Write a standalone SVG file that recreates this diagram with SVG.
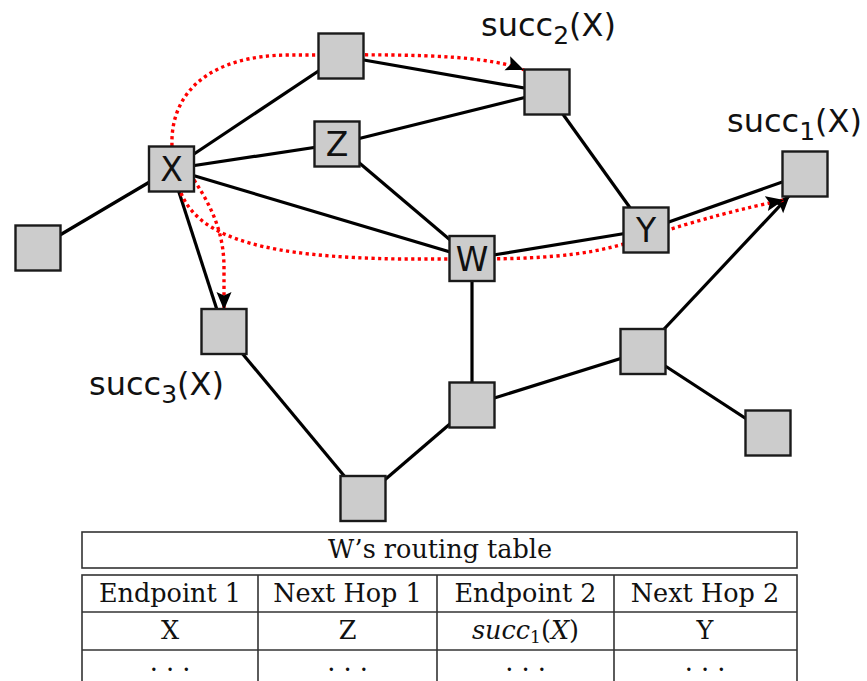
<svg xmlns="http://www.w3.org/2000/svg" width="867" height="681" viewBox="0 0 867 681">
  <style>
    .edge { stroke: #000; stroke-width: 3.2; fill: none; }
    .route { stroke: #ff0000; stroke-width: 3.4; stroke-dasharray: 3.2 3.4; fill: none; }
    .node rect { fill: #cccccc; stroke: #1a1a1a; stroke-width: 2.4; }
    .nlabel { font-family: "DejaVu Sans", sans-serif; font-size: 33px; fill: #111; text-anchor: middle; }
    .succ { font-family: "DejaVu Sans", sans-serif; font-size: 32px; fill: #111; }
    .grid { stroke: #333; stroke-width: 1.6; fill: none; }
    .cell { font-family: "DejaVu Serif", serif; font-size: 25.5px; fill: #111; text-anchor: middle; }
  </style>
  <defs>
    <marker id="head" markerUnits="userSpaceOnUse" markerWidth="19" markerHeight="16" refX="18" refY="7.5" orient="auto">
      <path d="M0,0 L18,7.5 L0,15 L3.5,7.5 z" fill="#000"/>
    </marker>
  </defs>

  <rect width="867" height="681" fill="#fff"/>

  <!-- links and routes -->
  <g id="connectors">
    <line class="edge" x1="38" y1="248" x2="171.5" y2="169"/>
    <line class="edge" x1="171.5" y1="169" x2="341" y2="56"/>
    <line class="edge" x1="171.5" y1="169" x2="337" y2="144"/>
    <line class="edge" x1="171.5" y1="169" x2="472" y2="258.5"/>
    <line class="edge" x1="171.5" y1="169" x2="224" y2="331.5"/>
    <line class="edge" x1="341" y1="56" x2="547" y2="92"/>
    <line class="edge" x1="337" y1="144" x2="547" y2="92"/>
    <line class="edge" x1="337" y1="144" x2="472" y2="258.5"/>
    <line class="edge" x1="547" y1="92" x2="646" y2="230"/>
    <line class="edge" x1="472" y1="258.5" x2="646" y2="230"/>
    <line class="edge" x1="646" y1="230" x2="805" y2="174"/>
    <line class="edge" x1="472" y1="258.5" x2="472" y2="405"/>
    <line class="edge" x1="472" y1="405" x2="643" y2="351.5"/>
    <line class="edge" x1="472" y1="405" x2="363" y2="498.5"/>
    <line class="edge" x1="224" y1="331.5" x2="363" y2="498.5"/>
    <line class="edge" x1="643" y1="351.5" x2="768" y2="433"/>
    <line class="edge" x1="643" y1="351.5" x2="790" y2="195" marker-end="url(#head)"/>

    <path class="route" d="M172,146 C170,92 210,55 290,55 C380,55 480,52 524,70" marker-end="url(#head)"/>
    <path class="route" d="M194,180 C214,210 224,236 224,268 L224,310" marker-end="url(#head)"/>
    <path class="route" d="M181,193 C200,240 270,257 400,259 L472,259 C560,259 600,253 646,237 C700,219 745,208 784,200" marker-end="url(#head)"/>
  </g>

  <!-- nodes -->
  <g id="n-top" class="node"><rect x="318.5" y="33.5" width="45" height="45"/></g>
  <g id="n-succ2" class="node"><rect x="524.5" y="69.5" width="45" height="45"/></g>
  <g id="n-z" class="node"><rect x="314.5" y="121.5" width="45" height="45"/><text class="nlabel" x="337" y="156">Z</text></g>
  <g id="n-x" class="node"><rect x="149" y="146.5" width="45" height="45"/><text class="nlabel" x="171.5" y="181">X</text></g>
  <g id="n-left" class="node"><rect x="15.5" y="225.5" width="45" height="45"/></g>
  <g id="n-succ3" class="node"><rect x="201.5" y="309" width="45" height="45"/></g>
  <g id="n-w" class="node"><rect x="449.5" y="236" width="45" height="45"/><text class="nlabel" x="472" y="270.5">W</text></g>
  <g id="n-y" class="node"><rect x="623.5" y="207.5" width="45" height="45"/><text class="nlabel" x="646" y="242">Y</text></g>
  <g id="n-succ1" class="node"><rect x="782.5" y="151.5" width="45" height="45"/></g>
  <g id="n-below-w" class="node"><rect x="449.5" y="382.5" width="45" height="45"/></g>
  <g id="n-right" class="node"><rect x="620.5" y="329" width="45" height="45"/></g>
  <g id="n-far-right" class="node"><rect x="745.5" y="410.5" width="45" height="45"/></g>
  <g id="n-bottom" class="node"><rect x="340.5" y="476" width="45" height="45"/></g>

  <!-- successor labels -->
  <text class="succ" x="481" y="36">succ<tspan font-size="25" dy="8">2</tspan><tspan dy="-8">(X)</tspan></text>
  <text class="succ" x="727" y="132">succ<tspan font-size="25" dy="8">1</tspan><tspan dy="-8">(X)</tspan></text>
  <text class="succ" x="89" y="395">succ<tspan font-size="25" dy="8">3</tspan><tspan dy="-8">(X)</tspan></text>

  <!-- routing table -->
  <g id="routing-table">
    <rect class="grid" x="82" y="532" width="715" height="36"/>
    <text class="cell" x="440" y="558">W’s routing table</text>
    <rect class="grid" x="82" y="575" width="715" height="130"/>
    <line class="grid" x1="82" y1="612" x2="797" y2="612"/>
    <line class="grid" x1="82" y1="650" x2="797" y2="650"/>
    <line class="grid" x1="258" y1="575" x2="258" y2="681"/>
    <line class="grid" x1="437" y1="575" x2="437" y2="681"/>
    <line class="grid" x1="614" y1="575" x2="614" y2="681"/>

    <text class="cell" x="170" y="602">Endpoint 1</text>
    <text class="cell" x="347.5" y="602">Next Hop 1</text>
    <text class="cell" x="525.5" y="602">Endpoint 2</text>
    <text class="cell" x="705" y="602">Next Hop 2</text>

    <text class="cell" x="170" y="639">X</text>
    <text class="cell" x="347.5" y="639">Z</text>
    <text class="cell" x="525.5" y="639"><tspan font-style="italic">succ</tspan><tspan font-size="17" dy="4">1</tspan><tspan dy="-4">(</tspan><tspan font-style="italic">X</tspan>)</text>
    <text class="cell" x="705" y="639">Y</text>

    <text class="cell" x="170" y="671">. . .</text>
    <text class="cell" x="347.5" y="671">. . .</text>
    <text class="cell" x="525.5" y="671">. . .</text>
    <text class="cell" x="705" y="671">. . .</text>
  </g>
</svg>
